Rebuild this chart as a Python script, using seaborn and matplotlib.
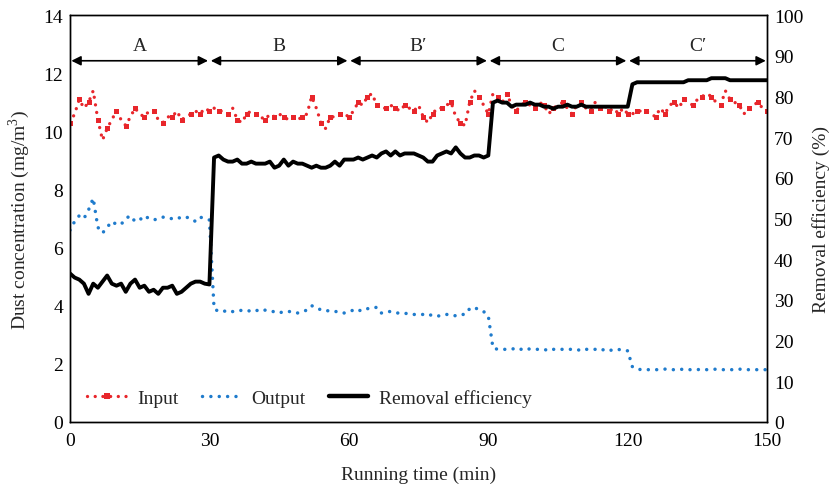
import numpy as np
import pandas as pd
import matplotlib
matplotlib.use("Agg")
import matplotlib.pyplot as plt
import seaborn as sns
from matplotlib.lines import Line2D

sns.set_theme(style="white")
plt.rcParams['font.family'] = ['Liberation Serif', 'DejaVu Serif']
plt.rcParams['mathtext.fontset'] = 'custom'
plt.rcParams['mathtext.rm'] = 'Liberation Serif'

time_min = list(range(0, 151))

input_conc = [
    10.3, 10.6, 11.1, 10.8, 11.0, 11.4, 10.4, 9.7, 10.1, 10.4,
    10.7, 10.4, 10.2, 10.5, 10.8, 10.6, 10.5, 10.7, 10.7, 10.4,
    10.3, 10.5, 10.5, 10.7, 10.4, 10.5, 10.6, 10.7, 10.6, 10.8,
    10.7,
    10.8, 10.7, 10.7, 10.6, 10.8, 10.4, 10.3, 10.6, 10.7, 10.6,
    10.5, 10.4, 10.6, 10.5, 10.6, 10.5, 10.4, 10.5, 10.4, 10.5,
    10.6, 11.2, 10.8, 10.3, 10.1, 10.5, 10.5, 10.6, 10.6, 10.5,
    10.7, 11.0, 10.9, 11.2, 11.3, 10.9, 10.8, 10.8, 10.9, 10.8,
    10.7, 10.9, 10.8, 10.7, 10.9, 10.5, 10.3, 10.6, 10.8, 10.8,
    10.9, 11.0, 10.5, 10.3, 10.2, 11.0, 11.4, 11.2, 10.9, 10.6,
    11.3, 11.2, 11.0, 11.3, 10.9, 10.7, 10.9, 11.0, 10.9, 10.8,
    11.0, 10.9, 10.6, 10.8, 10.9, 11.0, 10.8, 10.6, 10.9, 11.0,
    10.8, 10.7, 11.0, 10.8, 10.9, 10.7, 10.8, 10.6, 10.8, 10.6,
    10.6, 10.7, 10.7, 10.7, 10.6, 10.5, 10.8, 10.6, 10.9, 11.0,
    10.8, 11.1, 11.0, 10.9, 11.1, 11.2, 11.3, 11.2, 11.0, 10.9,
    11.4, 11.1, 11.0, 10.9, 10.6, 10.8, 10.9, 11.0, 10.8, 10.7,
]

output_conc = [
    6.6, 6.9, 7.1, 7.0, 7.3, 7.7, 6.7, 6.5, 6.7, 6.9,
    6.8, 6.8, 7.0, 7.1, 6.9, 6.95, 7.1, 7.0, 6.95, 7.0,
    7.05, 7.0, 7.0, 7.05, 7.0, 7.05, 7.0, 6.9, 7.05, 7.0,
    6.95,
    3.9, 3.8, 3.8, 3.85, 3.8, 3.8, 3.85, 3.85, 3.8, 3.85,
    3.8, 3.85, 3.8, 3.8, 3.75, 3.8, 3.8, 3.8, 3.75, 3.8,
    3.85, 4.0, 3.95, 3.85, 3.85, 3.8, 3.8, 3.8, 3.75, 3.8,
    3.85, 3.8, 3.9, 3.9, 3.9, 3.95, 3.75, 3.8, 3.8, 3.75,
    3.75, 3.75, 3.7, 3.7, 3.7, 3.7, 3.65, 3.7, 3.65, 3.65,
    3.7, 3.7, 3.65, 3.7, 3.7, 3.9, 3.95, 3.85, 3.8, 3.65,
    2.55, 2.5, 2.5, 2.5, 2.5, 2.55, 2.5, 2.55, 2.5, 2.5,
    2.5, 2.5, 2.45, 2.5, 2.5, 2.5, 2.5, 2.5, 2.5, 2.45,
    2.5, 2.5, 2.5, 2.45, 2.5, 2.45, 2.5, 2.5, 2.45, 2.45,
    1.9, 1.82, 1.8, 1.8, 1.8, 1.8, 1.8, 1.82, 1.8, 1.8,
    1.8, 1.82, 1.8, 1.8, 1.8, 1.82, 1.8, 1.8, 1.82, 1.8,
    1.8, 1.8, 1.8, 1.82, 1.8, 1.8, 1.8, 1.8, 1.8, 1.8,
]

removal_eff = [
    36.5, 35.5, 35.0, 34.0, 31.5, 34.0, 33.0, 34.5, 36.0, 34.0,
    33.5, 34.0, 32.0, 34.0, 35.0, 33.0, 33.5, 32.0, 32.5, 31.5,
    33.0, 33.0, 33.5, 31.5, 32.0, 33.0, 34.0, 34.5, 34.5, 34.0,
    33.8,
    65.0, 65.5, 64.5, 64.0, 64.0, 64.5, 63.5, 63.5, 64.0, 63.5,
    63.5, 63.5, 64.0, 62.5, 63.0, 64.5, 63.0, 64.0, 63.5, 63.5,
    63.0, 62.5, 63.0, 62.5, 62.5, 63.0, 64.0, 63.0, 64.5, 64.5,
    64.5, 65.0, 64.5, 65.0, 65.5, 65.0, 66.0, 66.5, 65.5, 66.5,
    65.5, 66.0, 66.0, 66.0, 65.5, 65.0, 64.0, 64.0, 65.5, 66.0,
    66.5, 66.0, 67.5, 66.0, 65.0, 65.0, 65.5, 65.5, 65.0, 65.5,
    78.5, 79.0, 78.5, 78.5, 77.5, 78.0, 78.0, 78.0, 78.5, 78.0,
    78.0, 77.5, 77.5, 77.0, 77.5, 77.5, 78.0, 77.5, 77.5, 78.0,
    77.5, 77.5, 77.5, 77.5, 77.5, 77.5, 77.5, 77.5, 77.5, 77.5,
    83.0, 83.5, 83.5, 83.5, 83.5, 83.5, 83.5, 83.5, 83.5, 83.5,
    83.5, 83.5, 84.0, 84.0, 84.0, 84.0, 84.0, 84.5, 84.5, 84.5,
    84.5, 84.0, 84.0, 84.0, 84.0, 84.0, 84.0, 84.0, 84.0, 84.0,
]

stage_labels = ["A", "B", "B\u2032", "C", "C\u2032"]
stage_bounds = [0, 30, 60, 90, 120, 150]

df = pd.DataFrame({"time": time_min, "input": input_conc,
                   "output": output_conc, "eff": removal_eff})

RED = "#e8262b"
BLUE = "#1f7bcc"
DOT_RED = (0, (0.01, 2.3))
DOT_BLUE = (0, (0.01, 2.4))

fig = plt.figure(figsize=(8.31, 4.89), dpi=100)
ax = fig.add_axes([0.0842, 0.135, 0.839, 0.832])
ax2 = ax.twinx()

sns.lineplot(data=df, x="time", y="input", ax=ax, color=RED, lw=2.4,
             linestyle=DOT_RED, dash_capstyle="round",
             marker="s", markersize=3.6, markeredgewidth=0, markevery=2)
sns.lineplot(data=df, x="time", y="output", ax=ax, color=BLUE, lw=2.5,
             linestyle=DOT_BLUE, dash_capstyle="round")
sns.lineplot(data=df, x="time", y="eff", ax=ax2, color="black", lw=2.8)

ax.set_xlim(0, 150)
ax.set_ylim(0, 14)
ax2.set_ylim(0, 100)
ax.set_xticks(stage_bounds)
ax.set_yticks(range(0, 15, 2))
ax2.set_yticks(range(0, 101, 10))

fs = 14
ax.set_xlabel("Running time (min)", fontsize=fs, labelpad=12)
ax.set_ylabel("Dust concentration (mg/m$^3$)", fontsize=fs, labelpad=8)
ax2.set_ylabel("Removal efficiency (%)", fontsize=fs, labelpad=6)
ax.tick_params(axis="x", direction="in", length=3, width=0.8, labelsize=fs, pad=7, colors="black")
ax.tick_params(axis="y", direction="in", length=0, labelsize=fs, pad=5, colors="black")
ax2.tick_params(axis="y", direction="in", length=0, labelsize=fs, pad=5, colors="black")

for a in (ax, ax2):
    for s in a.spines.values():
        s.set_color("black")
        s.set_linewidth(1.0)

# stage arrows
for i, lab in enumerate(stage_labels):
    x0, x1 = stage_bounds[i], stage_bounds[i + 1]
    ax.annotate("", xy=(x0 + 0.3, 12.43), xytext=(x1 - 0.3, 12.43),
                arrowprops=dict(arrowstyle="<|-|>", color="black", lw=1.2,
                                mutation_scale=14, shrinkA=0, shrinkB=0))
    ax.text((x0 + x1) / 2, 12.95, lab, ha="center", va="center", fontsize=fs)

handles = [
    Line2D([], [], color=RED, lw=2.4, linestyle=DOT_RED, dash_capstyle="round",
           marker="s", markersize=4.5, markeredgewidth=0),
    Line2D([], [], color=BLUE, lw=2.5, linestyle=DOT_BLUE, dash_capstyle="round"),
    Line2D([], [], color="black", lw=3.2),
]
ax.legend(handles, ["Input", "Output", "Removal efficiency"], loc="lower left",
          bbox_to_anchor=(0.0, -0.005), ncol=3, frameon=False, fontsize=fs,
          handlelength=2.0, handletextpad=0.55, columnspacing=1.2)

fig.savefig("out.png", dpi=100)
